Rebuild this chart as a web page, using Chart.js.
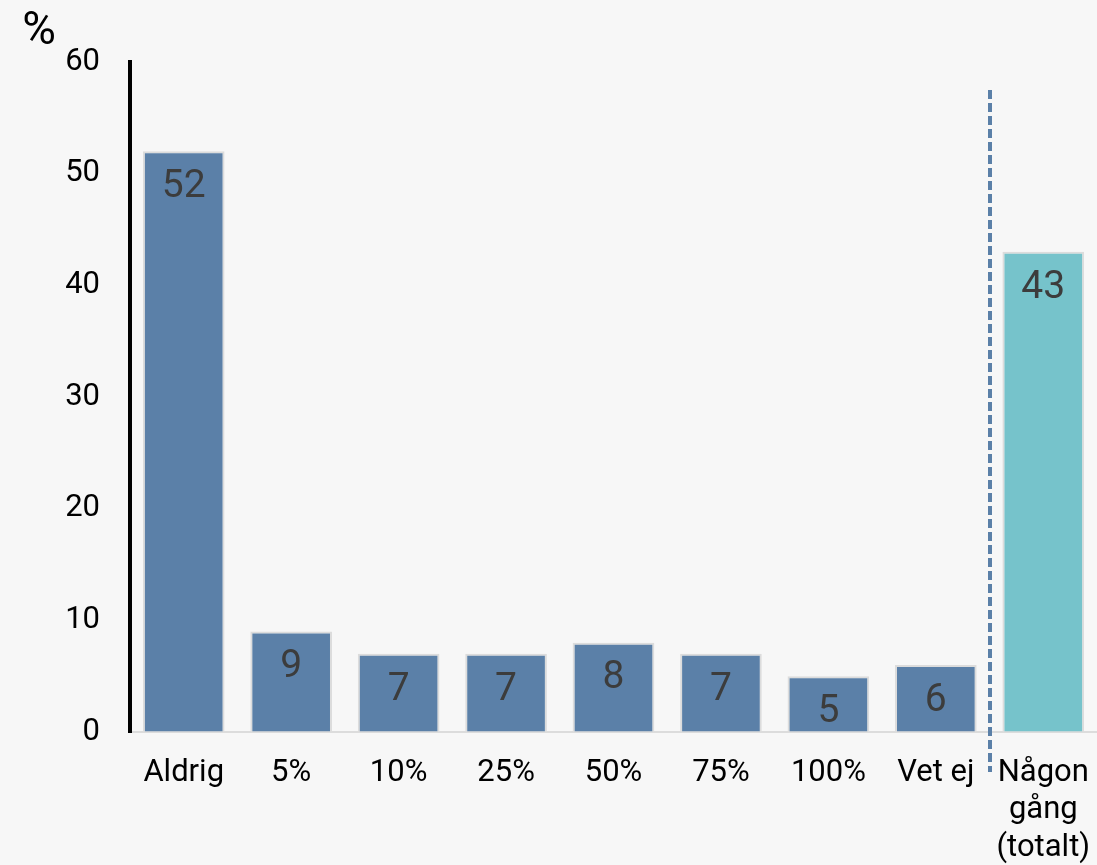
<!DOCTYPE html>
<html>
<head>
<meta charset="utf-8">
<script src="https://cdn.jsdelivr.net/npm/chart.js@4/dist/chart.umd.min.js"></script>
<style>
  html, body { margin: 0; padding: 0; background: #f7f7f7; }
  #wrap { width: 1097px; height: 865px; }
</style>
</head>
<body>
<div id="wrap"><canvas id="chart"></canvas></div>
<script>
const categories = ['Aldrig', '5%', '10%', '25%', '50%', '75%', '100%', 'Vet ej', ['Någon', 'gång', '(totalt)']]
const values = [52, 9, 7, 7, 8, 7, 5, 6, 43]
const barColors = ['#5b80a8', '#5b80a8', '#5b80a8', '#5b80a8', '#5b80a8', '#5b80a8', '#5b80a8', '#5b80a8', '#76c3cb']
const yTicks = [0, 10, 20, 30, 40, 50, 60]

const font = 'Roboto, "Noto Sans", sans-serif'

// value labels inside the bars, near the top
const barLabels = {
  id: 'barLabels',
  afterDatasetsDraw(chart) {
    const ctx = chart.ctx
    const meta = chart.getDatasetMeta(0)
    ctx.save()
    ctx.font = '39px ' + font
    ctx.fillStyle = '#3c3c3c'
    ctx.textAlign = 'center'
    ctx.textBaseline = 'middle'
    meta.data.forEach((bar, i) => {
      ctx.fillText(String(values[i]), bar.x, bar.y + 36)
    })
    ctx.restore()
  }
}

// dashed separator before the total bar, plus the "%" unit
const extras = {
  id: 'extras',
  afterDraw(chart) {
    const ctx = chart.ctx
    const x = Math.round(chart.scales.x.getPixelForValue(7.5))
    const top = chart.scales.y.getPixelForValue(57.5)
    const bottom = chart.chartArea.bottom + 40
    ctx.save()
    ctx.strokeStyle = '#5b80a8'
    ctx.lineWidth = 4
    ctx.setLineDash([9, 4])
    ctx.beginPath()
    ctx.moveTo(x, top)
    ctx.lineTo(x, bottom)
    ctx.stroke()
    ctx.setLineDash([])
    ctx.font = '46px ' + font
    ctx.fillStyle = '#000'
    ctx.textAlign = 'center'
    ctx.textBaseline = 'middle'
    ctx.fillText('%', 39, 32)
    ctx.restore()
  }
}

new Chart(document.getElementById('chart').getContext('2d'), {
  type: 'bar',
  data: {
    labels: categories,
    datasets: [{
      data: values,
      backgroundColor: barColors,
      borderColor: '#dcdcdc',
      borderWidth: 2,
      categoryPercentage: 0.76,
      barPercentage: 1
    }]
  },
  options: {
    responsive: true,
    maintainAspectRatio: false,
    animation: false,
    layout: { padding: { top: 62, right: 0, left: 0, bottom: 0 } },
    plugins: { legend: { display: false }, tooltip: { enabled: false } },
    scales: {
      x: {
        grid: { display: true, drawOnChartArea: false, drawTicks: false },
        border: { display: true, color: '#dcdcdc', width: 2 },
        ticks: { color: '#000', font: { family: font, size: 31, lineHeight: 1.21 }, padding: 22, maxRotation: 0, autoSkip: false },
        afterFit(scale) {
          scale.height = 133
          scale.paddingLeft = 0
          scale.paddingRight = 0
        }
      },
      y: {
        min: 0,
        max: 60,
        afterBuildTicks(scale) { scale.ticks = yTicks.map(v => ({ value: v })) },
        grid: { display: true, drawOnChartArea: false, drawTicks: false },
        border: { display: true, color: '#000', width: 4 },
        ticks: { color: '#000', font: { family: font, size: 31 }, padding: 30 },
        afterFit(scale) { scale.width = 130 }
      }
    }
  },
  plugins: [barLabels, extras]
})
</script>
</body>
</html>
